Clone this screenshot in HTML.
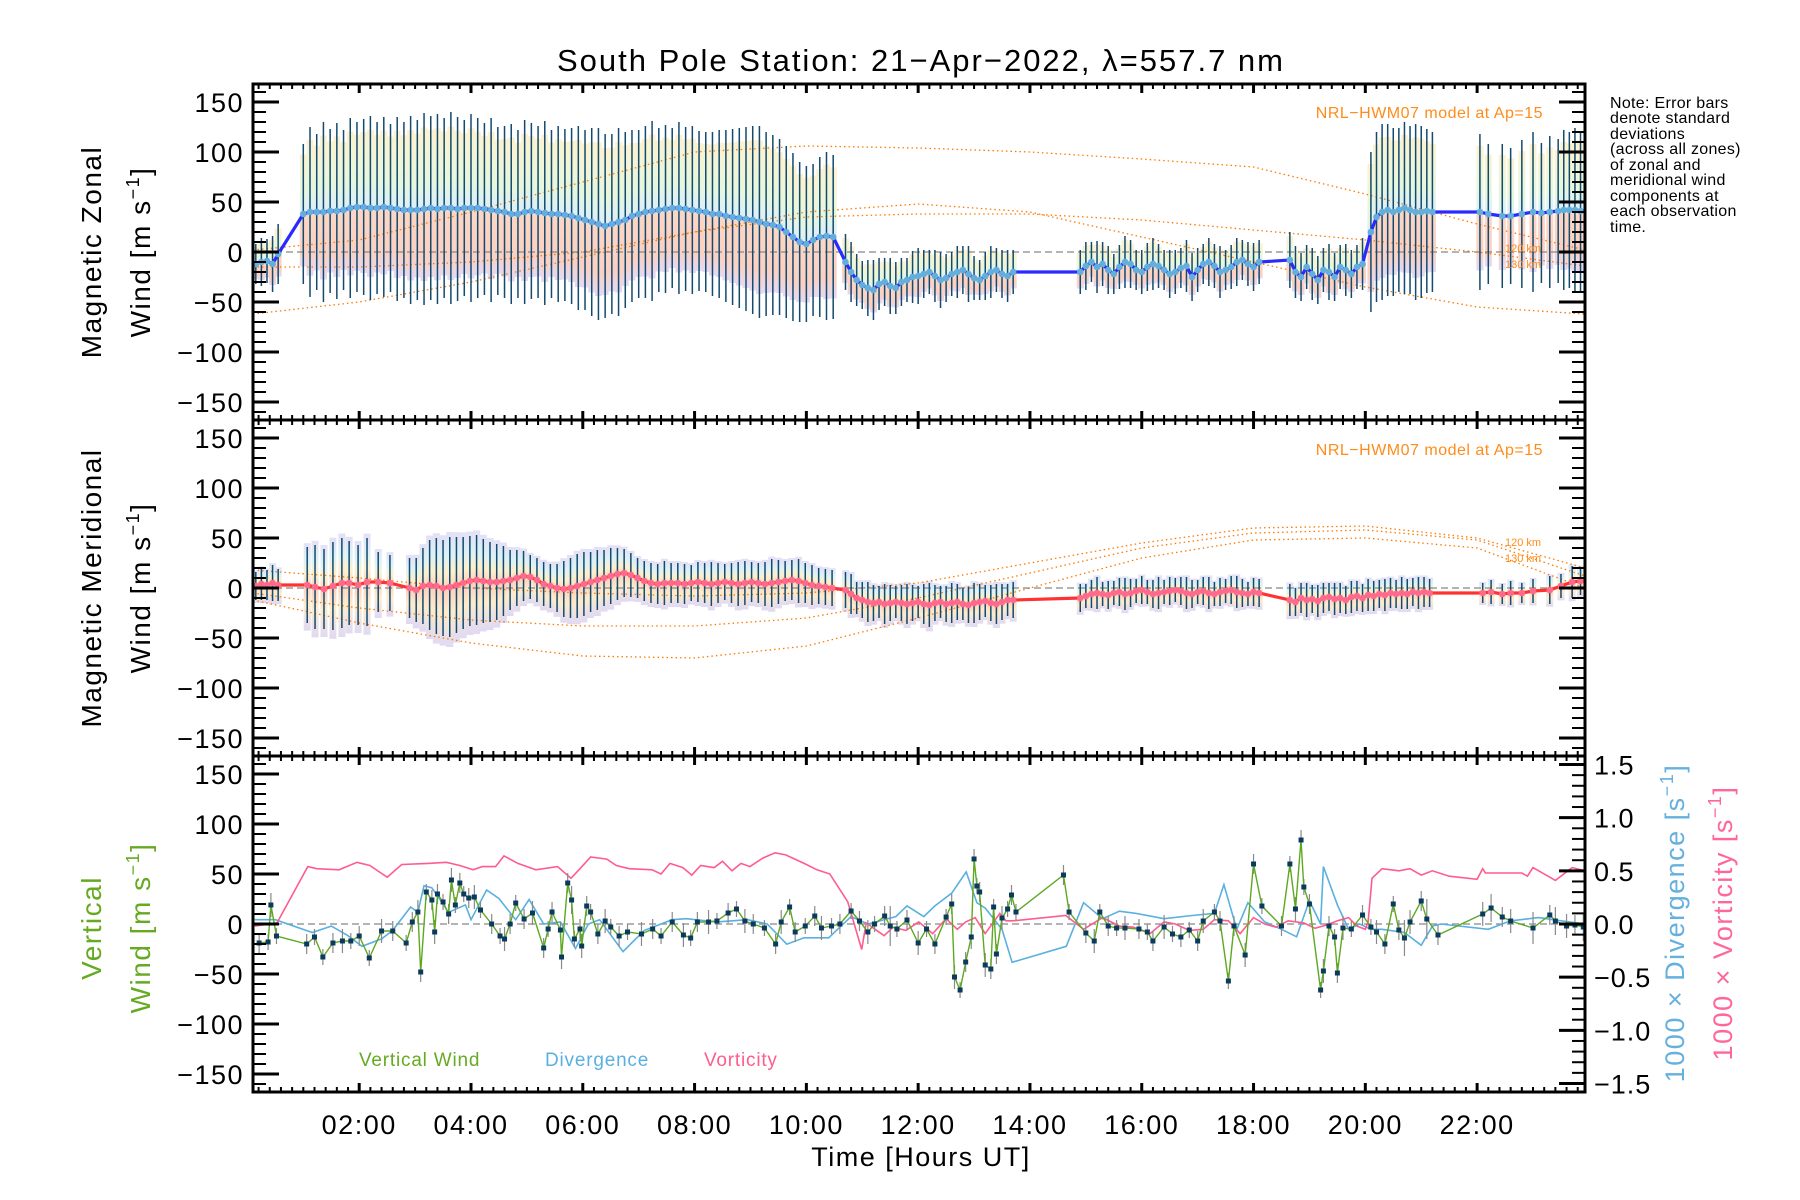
<!DOCTYPE html>
<html><head><meta charset="utf-8"><title>South Pole Station winds</title>
<style>
html,body{margin:0;padding:0;background:#fff;}
svg{display:block;font-family:"Liberation Sans",sans-serif;}
</style></head>
<body>
<svg id="chart" width="1800" height="1200" viewBox="0 0 1800 1200" xmlns="http://www.w3.org/2000/svg">
<defs>
<linearGradient id="zband" x1="0" y1="0" x2="0" y2="1">
<stop offset="0" stop-color="#fdf2d0"/><stop offset="0.35" stop-color="#e6f7de"/><stop offset="0.5" stop-color="#dcf0f8"/><stop offset="0.56" stop-color="#fcd6c4"/><stop offset="0.85" stop-color="#fbd0c2"/><stop offset="1" stop-color="#e2daf4"/>
</linearGradient>
<linearGradient id="mband" x1="0" y1="0" x2="0" y2="1">
<stop offset="0" stop-color="#e4dff6"/><stop offset="0.2" stop-color="#dcf2f6"/><stop offset="0.35" stop-color="#fdf0cc"/><stop offset="0.5" stop-color="#fcd0be"/><stop offset="0.7" stop-color="#fdeccc"/><stop offset="1" stop-color="#e0d9f4"/>
</linearGradient>
</defs>
<text x="921" y="71" font-size="31" letter-spacing="2" text-anchor="middle">South Pole Station: 21−Apr−2022, λ=557.7 nm</text>
<g id="plots"></g>
</svg>
<script>
// ---------- DATA ----------
const zonalSegStart = [0.15, 1.0, 10.7, 14.9, 18.65, 20.1];
const zonalSegStep = [0.1, 0.12, 0.1, 0.1, 0.1, 0.1];
const zonalMeans = [
 [-12,-10,-9,-12,-2],
 [38,40,40,40,41,41,42,44,45,45, 44,44,45,44,43,42,42,42,43,44, 43,44,44,43,44,44,44,43,42,41, 40,38,38,40,41,40,39,38,38,37,
  36,34,32,30,28,26,28,30,32,36, 38,40,41,42,43,44,44,43,42,41, 40,38,38,36,35,34,33,32,30,28, 27,25,20,15,10,8,12,15,16,15],
 [-10,-20,-28,-33,-36,-38,-32,-30,-34,-36,-30,-28,-25,-24,-22,-20,-24,-28,-26,-22,-20,-18,-22,-26,-28,-24,-20,-18,-22,-24,-20],
 [-20,-14,-10,-15,-12,-18,-22,-15,-10,-12,-18,-20,-15,-12,-14,-18,-22,-20,-16,-14,-25,-18,-12,-10,-14,-20,-18,-15,-10,-8,-12,-15,-10],
 [-8,-20,-25,-15,-22,-28,-18,-20,-25,-15,-18,-22,-15,-12],
 [20,35,40,42,40,42,44,42,40,40,41,40]
];
const zonalSD = [
 [20,24,22,28,30],
 [70,85,78,90,82,88,80,90,85,88, 92,86,90,84,92,88,94,90,96,92, 95,90,96,92,88,94,90,86,92,84, 86,90,84,92,88,86,92,84,88,86,
  88,92,90,94,96,92,90,94,88,86, 84,86,90,82,84,80,86,82,84,80, 80,82,84,86,88,90,92,94,96,92, 90,88,86,84,80,78,76,80,84,82],
 [28,30,26,24,28,30,26,24,28,26,24,22,26,28,24,22,26,28,24,22,26,24,28,22,20,24,26,22,24,26,22],
 [22,24,20,26,22,24,20,22,26,24,20,22,24,26,22,20,24,22,20,26,24,22,20,24,22,26,20,22,24,20,22,24,22],
 [28,26,24,22,26,24,22,28,24,22,26,24,22,26],
 [80,85,88,86,84,82,86,84,88,86,82,80]
];
const zonalLateT = [22.05,22.2,22.45,22.6,22.8,23.0,23.15,23.3,23.45,23.55,23.65,23.75,23.85];
const zonalLateMean = [40,38,36,36,38,40,39,40,41,42,42,42,41];
const zonalLateSD = [78,70,72,68,74,80,70,76,72,80,78,82,80];

const meridSegStart = [0.15, 2.9, 10.7, 14.9, 18.65];
const meridSegStep = [0.1, 0.12, 0.1, 0.1, 0.1];
const meridMeans = [
 [2,4,3,5,3],
 [0,-2,2,3,2,0,1,3,5,7, 8,7,6,6,7,8,10,12,11,8, 4,2,0,-1,0,2,4,6,8,10, 12,14,15,13,10,7,5,4,5,5, 5,4,5,6,5,4,5,6,5,4, 5,6,5,4,5,6,7,8,7,5, 3,2,1,0],
 [-2,-6,-10,-12,-14,-15,-14,-16,-15,-14,-15,-16,-15,-14,-16,-17,-15,-14,-16,-15,-14,-16,-17,-15,-14,-13,-15,-16,-14,-12,-12],
 [-10,-8,-6,-5,-6,-7,-5,-4,-6,-5,-3,-2,-4,-6,-5,-4,-3,-2,-3,-5,-6,-4,-3,-5,-6,-4,-3,-2,-4,-5,-6,-4,-5],
 [-12,-14,-10,-12,-11,-13,-10,-9,-11,-10,-12,-9,-8,-10,-7,-8,-6,-7,-5,-6,-5,-6,-4,-5,-4,-5]
];
const meridSD = [
 [14,16,15,18,16],
 [30,32,38,45,48,48,50,48,46,45, 45,42,40,38,35,30,28,25,22,22, 22,22,24,28,30,32,32,30,30,28, 28,26,24,22,20,20,20,20,22,20, 20,20,18,20,20,22,20,18,20,22, 22,20,20,22,24,22,20,20,22,20, 20,18,18,18],
 [18,20,16,18,20,18,16,20,18,16,18,20,18,16,20,22,18,16,18,20,18,16,18,20,18,16,18,20,18,16,18],
 [14,12,14,16,12,14,12,14,16,14,12,14,12,14,16,12,14,12,14,16,14,12,14,16,12,14,12,14,16,14,12,14,14],
 [16,14,15,17,14,16,15,14,16,15,14,16,15,14,16,15,14,16,15,14,16,15,14,16,15,14]
];
const meridEarlyT = [1.07,1.21,1.37,1.53,1.69,1.82,1.98,2.14,2.34,2.55];
const meridEarlyMean = [3,1,-1,2,5,5,3,6,6,5];
const meridEarlySD = [38,42,40,44,45,42,40,44,30,28];
const meridLateT = [22.1,22.25,22.45,22.6,22.8,23.0,23.3,23.5,23.7,23.85];
const meridLateMean = [-5,-4,-6,-5,-5,-3,-2,2,6,7];
const meridLateSD = [10,12,10,12,10,12,14,12,16,14];

const modelHours = [0,2,4,6,8,10,12,14,16,18,20,22,24];
const zonalModel1 = [2,12,40,70,100,106,104,100,93,85,58,28,2];
const zonalModel2 = [-62,-50,-30,-5,20,40,48,40,15,-10,-35,-55,-62];
const zonalModel3 = [-15,-15,-10,0,20,35,38,38,32,22,12,0,-14];
const meridModel1 = [18,10,0,-5,-8,-5,5,25,45,60,62,50,20];
const meridModel2 = [-5,-20,-32,-38,-38,-30,-10,15,40,55,58,48,12];
const meridModel3 = [-12,-35,-55,-68,-70,-58,-30,0,30,48,50,40,0];

const vwT = [0.21,0.37,0.42,0.52,1.06,1.2,1.35,1.53,1.7,1.85,
 2.0,2.18,2.4,2.6,2.84,2.95,3.05,3.1,3.2,3.3,
 3.35,3.4,3.5,3.6,3.65,3.72,3.8,3.87,3.96,4.06,
 4.17,4.37,4.52,4.6,4.7,4.8,4.95,5.1,5.3,5.38,
 5.45,5.6,5.62,5.73,5.8,5.85,5.95,5.98,6.07,6.14,
 6.27,6.4,6.5,6.65,6.8,7.05,7.25,7.4,7.6,7.8,
 7.93,8.05,8.25,8.4,8.6,8.75,8.9,9.05,9.25,9.45,
 9.55,9.7,9.8,9.98,10.15,10.27,10.45,10.6,10.8,10.95,
 11.1,11.22,11.4,11.5,11.62,11.8,12.0,12.15,12.3,12.5,
 12.6,12.65,12.75,12.85,12.95,13.0,13.05,13.1,13.2,13.3,
 13.35,13.4,13.5,13.6,13.67,13.75,14.6,14.7,15.0,15.15,
 15.25,15.4,15.55,15.7,15.95,16.1,16.2,16.4,16.55,16.7,
 16.85,17.0,17.1,17.3,17.4,17.55,17.65,17.85,18.0,18.15,
 18.5,18.65,18.75,18.85,18.9,19.0,19.2,19.25,19.35,19.45,
 19.5,19.6,19.75,19.95,20.1,20.2,20.35,20.5,20.6,20.7,
 20.8,21.0,21.1,21.3,22.1,22.25,22.45,22.6,23.0,23.3,
 23.4,23.6,23.75,23.9];
const vwV = [-19,-18,19,-12,-20,-13,-33,-19,-17,-17,
 -12,-34,-7,-7,-19,2,12,-48,32,24,
 -8,30,22,10,44,19,41,30,26,27,
 14,0,-12,-15,0,21,5,11,-24,-5,
 12,-6,-33,41,24,-15,-5,-22,18,12,
 -10,3,-3,-12,-8,-10,-5,-12,2,-11,
 -14,2,2,3,11,15,3,0,-4,-20,
 2,17,-8,-2,8,-4,-2,0,13,3,
 -8,0,8,-2,-5,4,-19,-5,-20,7,
 20,-53,-66,-38,-13,65,38,32,-41,-45,
 17,-30,6,15,29,12,49,12,-9,-17,
 12,-2,-4,-4,-5,-8,-17,-3,-10,-13,
 -6,-17,3,12,3,-57,-2,-31,60,18,
 -2,60,15,84,37,20,-66,-47,-2,-13,
 -49,-4,-5,9,-3,-8,-20,20,-6,-14,
 2,23,5,-11,10,16,7,3,-4,9,
 3,-2,-1,-3];
const vwErr = [10,8,12,8,10,8,8,10,12,8,
 10,8,12,10,8,10,12,10,8,10,
 12,10,8,10,12,8,10,8,10,12,
 8,10,8,12,10,8,10,12,10,8,
 10,8,12,10,14,8,10,12,10,8,
 10,12,8,10,8,12,10,8,10,12,
 8,10,12,8,10,8,12,10,8,10,
 12,8,10,8,10,12,8,10,8,10,
 12,8,10,20,8,10,12,8,10,8,
 10,12,8,10,12,10,8,10,12,10,
 8,10,12,8,10,8,10,8,10,12,
 8,10,8,12,10,8,10,12,8,10,
 8,10,12,8,10,8,10,12,10,8,
 10,8,12,10,8,10,8,12,10,8,
 10,12,8,10,8,12,10,8,10,18,
 12,10,20,10,12,14,10,12,16,10,
 14,12,10,14];
const divT = [0.13,0.5,1.16,1.5,1.8,2.05,2.4,2.6,2.92,3.05,
 3.16,3.3,3.6,3.9,4.0,4.28,4.5,4.8,5.04,5.3,
 5.6,5.87,6.1,6.3,6.72,7.1,7.6,7.85,8.4,8.95,
 9.3,9.65,9.96,10.4,10.8,11.1,11.6,11.8,12.1,12.3,
 12.6,12.86,13.05,13.2,13.5,13.68,14.65,14.96,15.3,15.6,
 15.9,16.4,16.9,17.3,17.47,17.7,17.9,18.2,18.5,18.77,
 19.0,19.2,19.25,19.5,19.7,19.9,20.1,20.3,20.7,21.0,
 21.2,21.35,22.2,22.6,23.1,23.5,23.93];
const divV = [0.04,0.04,-0.08,-0.02,-0.11,-0.21,-0.14,-0.06,0.16,0.11,
 0.36,0.34,0.11,0.18,0.04,0.32,0.24,0.04,0.23,0.0,
 0.02,-0.23,0.0,0.04,-0.26,-0.06,0.04,0.05,0.02,0.04,
 0.0,-0.19,-0.13,-0.13,0.07,0.0,0.07,0.17,0.07,0.17,
 0.29,0.49,0.2,0.15,-0.05,-0.36,-0.21,0.2,0.05,0.12,
 0.1,0.05,0.08,0.1,0.37,-0.05,0.2,0.02,-0.05,-0.12,
 0.22,0.0,0.54,0.18,-0.05,0.0,-0.05,-0.05,-0.08,-0.2,
 -0.02,0.0,-0.05,0.03,0.06,0.03,0.0];
const vortT = [0.13,0.53,1.08,1.24,1.64,1.96,2.19,2.5,2.76,3.23,
 3.56,3.8,4.04,4.2,4.44,4.59,4.84,5.16,5.55,5.79,
 5.95,6.14,6.43,6.6,6.83,7.24,7.4,7.56,7.79,7.95,
 8.11,8.35,8.5,8.67,8.83,8.99,9.22,9.44,9.63,9.96,
 10.19,10.42,10.74,10.99,11.07,11.23,11.39,11.55,11.78,12.01,
 12.26,12.5,12.7,12.85,13.02,13.2,13.46,13.57,13.7,14.64,
 14.96,15.3,15.6,15.85,16.15,16.4,16.6,16.85,17.1,17.3,
 17.55,17.76,18.0,18.2,18.4,18.62,18.9,19.1,19.3,19.5,
 19.7,19.85,20.0,20.05,20.12,20.3,20.6,20.8,21.0,21.2,
 21.5,22.0,22.1,22.15,22.8,22.9,23.0,23.4,23.7,23.93];
const vortV = [-0.02,0.01,0.54,0.52,0.51,0.58,0.55,0.44,0.56,0.57,
 0.58,0.55,0.51,0.54,0.54,0.64,0.57,0.51,0.54,0.43,
 0.52,0.63,0.61,0.55,0.52,0.51,0.47,0.57,0.53,0.46,
 0.55,0.53,0.59,0.50,0.57,0.54,0.62,0.67,0.65,0.57,
 0.51,0.47,0.21,-0.24,0.01,-0.05,-0.11,-0.03,-0.06,0.02,
 -0.09,0.05,-0.05,0.02,0.06,-0.09,0.10,0.03,0.03,0.08,
 -0.05,0.06,-0.02,-0.03,-0.09,0.02,0.0,-0.06,-0.05,0.04,
 0.03,-0.09,0.06,0.0,-0.03,0.03,0.01,-0.04,-0.01,0.03,
 0.06,-0.02,-0.05,0.02,0.43,0.52,0.50,0.52,0.46,0.50,
 0.45,0.42,0.52,0.48,0.48,0.45,0.53,0.41,0.53,0.50];

const xTickLabels = ["02:00","04:00","06:00","08:00","10:00","12:00","14:00","16:00","18:00","20:00","22:00"];
const yTickLabels = ["−150","−100","−50","0","50","100","150"];
const rTickLabels = ["−1.5","−1.0","−0.5","0.0","0.5","1.0","1.5"];

// ---------- LAYOUT / SCALES ----------
const NS = "http://www.w3.org/2000/svg";
const L = 253, R = 1585, PH = 336;
const panelTops = [84, 420, 756];
const X0 = 0.1, X1 = 23.93;
const YMAX = 168, RMAX = 1.58;
function xs(h){ return L + (h - X0) / (X1 - X0) * (R - L); }
function ys(top, v){ return top + (YMAX - v) / (2*YMAX) * PH; }
function yr(v){ return panelTops[2] + (RMAX - v) / (2*RMAX) * PH; }
const root = document.getElementById('plots');
function mk(tag, attrs, parent){
  const e = document.createElementNS(NS, tag);
  for (const k in attrs) e.setAttribute(k, attrs[k]);
  (parent || root).appendChild(e);
  return e;
}
function grp(name){
  const g = mk('g', {});
  
  
  return g;
}
function pathFrom(ts, vs, yf){
  let d = '';
  for (let i = 0; i < ts.length; i++) d += (i ? 'L' : 'M') + xs(ts[i]).toFixed(1) + ' ' + yf(vs[i]).toFixed(1);
  return d;
}
function flatten(starts, steps, means, sds){
  const T = [], M = [], S = [];
  for (let s = 0; s < starts.length; s++)
    for (let i = 0; i < means[s].length; i++){ T.push(starts[s] + steps[s]*i); M.push(means[s][i]); S.push(sds[s][i]); }
  return [T, M, S];
}

function windPanel(top, name, T, M, S, band, hiFrac, loFrac, lineColor, markColor, models){
  const bg = grp(name + '-bands');
  for (let i = 0; i < T.length; i++){
    const y1 = ys(top, M[i] + S[i]*hiFrac), y2 = ys(top, M[i] - S[i]*loFrac);
    const r = mk('rect', {x: xs(T[i]) - 3.5, y: y1, width: 7, height: Math.max(1, y2 - y1), fill: 'url(#' + band + ')'}, bg);
    
    
  }
  const mg = grp(name + '-model-curves');
  models.forEach((mv) => {
    const p = mk('path', {d: pathFrom(modelHours.map(h => Math.min(Math.max(h, X0), X1)), mv, v => ys(top, v)), fill: 'none', stroke: '#ff7a00', 'stroke-width': 1.3, 'stroke-dasharray': '1.5 3'}, mg);
    
    
  });
  const zl = mk('line', {x1: L, x2: R, y1: ys(top, 0), y2: ys(top, 0), stroke: '#888', 'stroke-width': 1.3, 'stroke-dasharray': '7 4'});
  
  
  const eg = grp(name + '-error-bars');
  for (let i = 0; i < T.length; i++){
    const l = mk('line', {x1: xs(T[i]), x2: xs(T[i]), y1: ys(top, M[i] + S[i]), y2: ys(top, M[i] - S[i]), stroke: '#134a6e', 'stroke-width': 1.5}, eg);
    
    
  }
  const ml = mk('path', {d: pathFrom(T, M, v => ys(top, v)), fill: 'none', stroke: lineColor, 'stroke-width': 3.2});
  
  
  const pg = grp(name + '-mean-points');
  for (let i = 0; i < T.length; i++){
    const c = mk('circle', {cx: xs(T[i]), cy: ys(top, M[i]), r: 3.3, fill: markColor}, pg);
    
    
  }
}

let zf = flatten(zonalSegStart, zonalSegStep, zonalMeans, zonalSD);
const zT = zf[0].concat(zonalLateT), zM = zf[1].concat(zonalLateMean), zS = zf[2].concat(zonalLateSD);
windPanel(panelTops[0], 'zonal', zT, zM, zS, 'zband', 0.85, 0.75, '#2a2aff', '#62aedc', [zonalModel1, zonalModel2, zonalModel3]);

let mf = flatten(meridSegStart, meridSegStep, meridMeans, meridSD);
const mT = [], mM = [], mS = [];
for (let i = 0; i < 5; i++){ mT.push(mf[0][i]); mM.push(mf[1][i]); mS.push(mf[2][i]); }
meridEarlyT.forEach((t, i) => { mT.push(t); mM.push(meridEarlyMean[i]); mS.push(meridEarlySD[i]); });
for (let i = 5; i < mf[0].length; i++){ mT.push(mf[0][i]); mM.push(mf[1][i]); mS.push(mf[2][i]); }
meridLateT.forEach((t, i) => { mT.push(t); mM.push(meridLateMean[i]); mS.push(meridLateSD[i]); });
windPanel(panelTops[1], 'meridional', mT, mM, mS, 'mband', 1.1, 1.2, '#ff3232', '#ff6a8c', [meridModel1, meridModel2, meridModel3]);

// ---------- VERTICAL PANEL ----------
const top3 = panelTops[2];
const vz = mk('line', {x1: L, x2: R, y1: ys(top3, 0), y2: ys(top3, 0), stroke: '#888', 'stroke-width': 1.3, 'stroke-dasharray': '7 4'});


const dl = mk('path', {d: pathFrom(divT, divV, yr), fill: 'none', stroke: '#5ab0e0', 'stroke-width': 1.6});


const vl = mk('path', {d: pathFrom(vortT, vortV, yr), fill: 'none', stroke: '#ff5c8e', 'stroke-width': 1.6});


const veg = grp('vertical-wind-error-bars');
for (let i = 0; i < vwT.length; i++){
  const l = mk('line', {x1: xs(vwT[i]), x2: xs(vwT[i]), y1: ys(top3, vwV[i] + vwErr[i]), y2: ys(top3, vwV[i] - vwErr[i]), stroke: '#8a8a8a', 'stroke-width': 1.2}, veg);
  
  
}
const wl = mk('path', {d: pathFrom(vwT, vwV, v => ys(top3, v)), fill: 'none', stroke: '#5ea820', 'stroke-width': 1.4});


const vpg = grp('vertical-wind-points');
for (let i = 0; i < vwT.length; i++){
  const r = mk('rect', {x: xs(vwT[i]) - 2.5, y: ys(top3, vwV[i]) - 2.5, width: 5, height: 5, fill: '#0a3a5c'}, vpg);
  
  
}

// ---------- AXES ----------
const ax = grp('axes');
panelTops.forEach((top, p) => {
  const fr = mk('rect', {x: L, y: top, width: R - L, height: PH, fill: 'none', stroke: '#000', 'stroke-width': 3}, ax);
  
  
  for (let m = 12; m <= 23.9*60; m += 12){
    const h = m/60; if (h < X0) continue;
    const major = (m % 120 === 0);
    const len = major ? 9 : 5;
    const x = xs(h);
    mk('line', {x1: x, x2: x, y1: top, y2: top + len, stroke: '#000', 'stroke-width': major ? 3 : 2}, ax);
    mk('line', {x1: x, x2: x, y1: top + PH, y2: top + PH - len, stroke: '#000', 'stroke-width': major ? 3 : 2}, ax);
  }
  for (let v = -160; v <= 160; v += 10){
    const major = (v % 50 === 0);
    const len = major ? 26 : 13;
    const y = ys(top, v);
    mk('line', {x1: L, x2: L + len, y1: y, y2: y, stroke: '#000', 'stroke-width': major ? 3 : 2}, ax);
    if (p < 2) mk('line', {x1: R, x2: R - len, y1: y, y2: y, stroke: '#000', 'stroke-width': major ? 3 : 2}, ax);
  }
  yTickLabels.forEach((lab, k) => {
    const v = -150 + 50*k;
    const t = mk('text', {x: 244, y: ys(top, v) + 10, 'font-size': 27, 'letter-spacing': 1.5, 'text-anchor': 'end'}, ax);
    t.textContent = lab;
    
    
  });
});
for (let k = -15; k <= 15; k++){
  const v = k/10, major = (k % 5 === 0), len = major ? 26 : 13;
  mk('line', {x1: R, x2: R - len, y1: yr(v), y2: yr(v), stroke: '#000', 'stroke-width': major ? 3 : 2}, ax);
}
rTickLabels.forEach((lab, k) => {
  const t = mk('text', {x: 1594, y: yr(-1.5 + 0.5*k) + 10, 'font-size': 27, 'letter-spacing': 1}, ax);
  t.textContent = lab;
  
  
});
xTickLabels.forEach((lab, k) => {
  const t = mk('text', {x: xs(2 + 2*k), y: 1134, 'font-size': 27, 'letter-spacing': 1.5, 'text-anchor': 'middle'}, ax);
  t.textContent = lab;
  
  
});
</script>
<script>
const S2 = document.getElementById('chart');
S2.insertAdjacentHTML('beforeend', `
<text x="921" y="1166" font-size="27" letter-spacing="1.5" text-anchor="middle">Time [Hours UT]</text>
<text transform="translate(101,252) rotate(-90)" font-size="28" letter-spacing="1.5" text-anchor="middle">Magnetic Zonal</text>
<text transform="translate(150,252) rotate(-90)" font-size="28" letter-spacing="1.5" text-anchor="middle">Wind [m s<tspan font-size="18" dy="-11">−1</tspan><tspan dy="11">]</tspan></text>
<text transform="translate(101,588) rotate(-90)" font-size="28" letter-spacing="1.5" text-anchor="middle">Magnetic Meridional</text>
<text transform="translate(150,588) rotate(-90)" font-size="28" letter-spacing="1.5" text-anchor="middle">Wind [m s<tspan font-size="18" dy="-11">−1</tspan><tspan dy="11">]</tspan></text>
<text transform="translate(101,928) rotate(-90)" font-size="28" letter-spacing="1.5" text-anchor="middle" fill="#66aa22">Vertical</text>
<text transform="translate(150,928) rotate(-90)" font-size="28" letter-spacing="1.5" text-anchor="middle" fill="#66aa22">Wind [m s<tspan font-size="18" dy="-11">−1</tspan><tspan dy="11">]</tspan></text>
<text transform="translate(1684,923) rotate(-90)" font-size="27" letter-spacing="1.5" text-anchor="middle" fill="#66b0dd">1000 × Divergence [s<tspan font-size="18" dy="-11">−1</tspan><tspan dy="11">]</tspan></text>
<text transform="translate(1732,923) rotate(-90)" font-size="27" letter-spacing="1.5" text-anchor="middle" fill="#ff6699">1000 × Vorticity [s<tspan font-size="18" dy="-11">−1</tspan><tspan dy="11">]</tspan></text>
<text x="1543" y="118" font-size="16" letter-spacing="0.5" text-anchor="end" fill="#ff8c1a">NRL−HWM07 model at Ap=15</text>
<text x="1543" y="455" font-size="16" letter-spacing="0.5" text-anchor="end" fill="#ff8c1a">NRL−HWM07 model at Ap=15</text>
<text x="1505" y="252" font-size="11" fill="#ff8c1a">120 km</text>
<text x="1505" y="268" font-size="11" fill="#ff8c1a">130 km</text>
<text x="1505" y="546" font-size="11" fill="#ff8c1a">120 km</text>
<text x="1505" y="562" font-size="11" fill="#ff8c1a">130 km</text>
<g font-size="16" letter-spacing="0.3">
<text x="1610" y="108">Note: Error bars</text>
<text x="1610" y="123">denote standard</text>
<text x="1610" y="139">deviations</text>
<text x="1610" y="154">(across all zones)</text>
<text x="1610" y="170">of zonal and</text>
<text x="1610" y="185">meridional wind</text>
<text x="1610" y="201">components at</text>
<text x="1610" y="216">each observation</text>
<text x="1610" y="232">time.</text>
</g>
<text x="359" y="1066" font-size="19" letter-spacing="0.8" fill="#66aa22">Vertical Wind</text>
<text x="545" y="1066" font-size="19" letter-spacing="0.8" fill="#5ab0e0">Divergence</text>
<text x="704" y="1066" font-size="19" letter-spacing="0.8" fill="#ff5c8e">Vorticity</text>
`);
</script>
</body></html>
